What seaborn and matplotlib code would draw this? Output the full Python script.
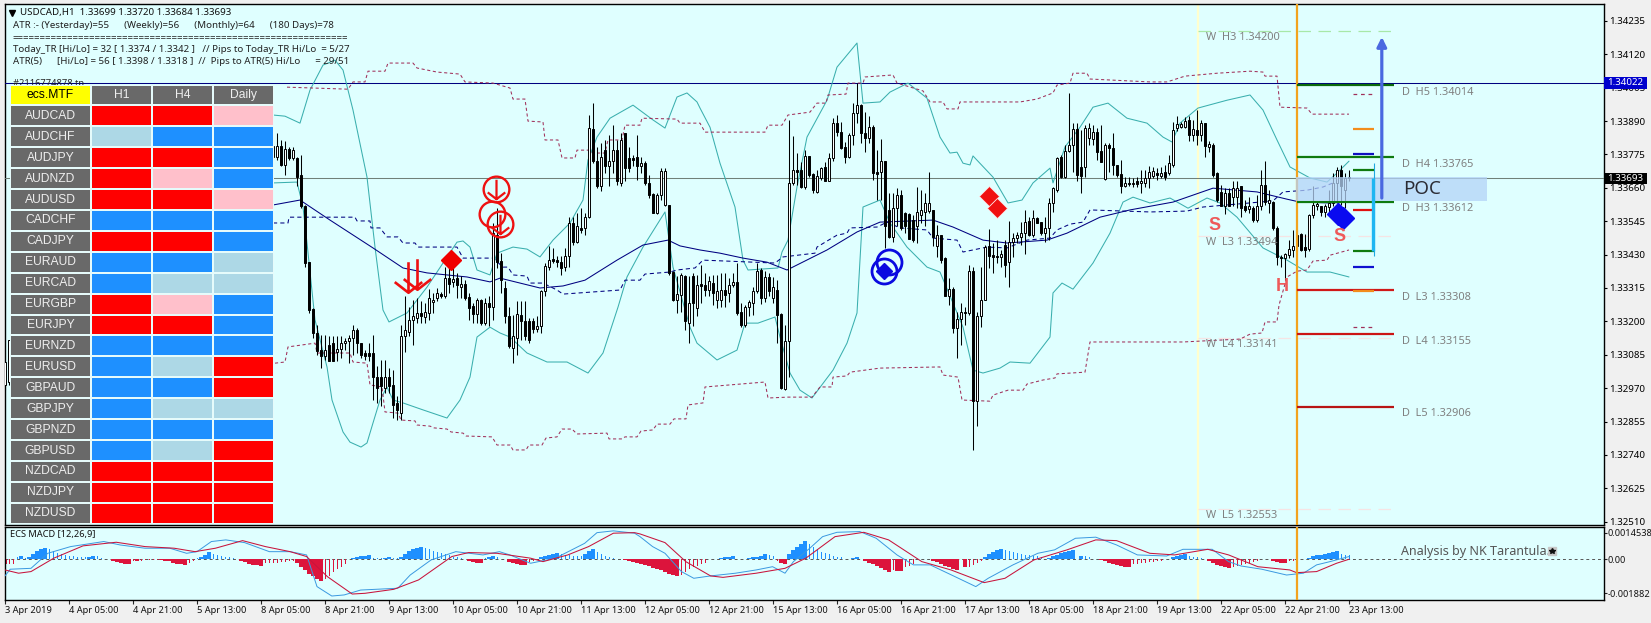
import numpy as np
import matplotlib
matplotlib.use("Agg")
import matplotlib.pyplot as plt
from matplotlib.colors import ListedColormap
from matplotlib.patches import Rectangle
from matplotlib.path import Path
import seaborn as sns

W, H = 1651, 623
BG = "#DFFFFF"

# ---------- data: candles (open, high, low, close) in points above 1.0 (1e-5) ----------
candle_start_a = 67
candles_a = [(33768,33825,33757,33805),(33768,33848,33757,33805),(33805,33825,33734,33739),(33739,33820,33705,33793),(33793,33800,33757,33762),(33762,33800,33757,33791),(33762,33768,33665,33699),(33705,33774,33590,33596),(33596,33602,33389,33401),(33406,33406,33228,33240),
(33242,33246,33142,33160),(33160,33188,33085,33097),(33102,33154,33039,33082),(33082,33154,33068,33100),(33119,33148,33062,33062),(33125,33148,33062,33062),(33096,33148,33065,33104),(33104,33148,33073,33125),(33125,33142,33102,33134),(33131,33154,33056,33142),
(33142,33188,33085,33169),(33169,33177,33091,33125),(33125,33125,33074,33085),(33091,33102,33068,33079),(33091,33125,33062,33082),(33091,33154,32930,33010),(33010,33045,32919,32970),(33010,33068,32907,32976),(32970,33068,32953,33010),(33010,33039,32953,32976),
(32982,33033,32867,32913),(32919,32942,32861,32896),(32884,33188,32861,33148),(33148,33286,33096,33171),(33165,33251,33148,33206),(33206,33274,33119,33217),(33211,33280,33194,33228),(33228,33269,33194,33217),(33215,33263,33194,33231),(33228,33311,33206,33280),
(33266,33297,33228,33272),(33280,33315,33269,33297),(33294,33301,33280,33288),(33288,33389,33280,33349),(33349,33389,33297,33330),(33334,33383,33320,33346),(33349,33366,33280,33326),(33320,33355,33280,33330),(33330,33343,33274,33280),(33284,33297,33206,33246),
(33254,33263,33194,33226),(33226,33280,33194,33272),(33272,33277,33188,33194),(33194,33280,33188,33263),(33263,33286,33183,33251),(33251,33538,33206,33504),(33498,33590,33383,33406),(33409,33435,33297,33343),(33315,33338,33194,33217),(33217,33251,33108,33114),
(33108,33223,33056,33148),(33142,33269,33085,33226),(33223,33269,33137,33203),(33203,33269,33137,33148),(33200,33211,33125,33137),(33200,33211,33160,33173),(33173,33217,33165,33183),(33183,33309,33160,33303),(33303,33401,33286,33392),(33389,33458,33378,33412),
(33414,33452,33401,33409),(33412,33424,33389,33403),(33406,33424,33361,33383),(33387,33452,33372,33424),(33424,33561,33389,33538),(33538,33561,33464,33475),(33475,33573,33470,33527),(33521,33590,33504,33516),(33521,33573,33498,33561),(33561,33912,33556,33866),
(33862,33952,33745,33751),(33751,33802,33659,33665),(33665,33814,33648,33766),(33791,33825,33711,33734),(33736,33843,33665,33751),(33751,33877,33711,33791),(33791,33825,33670,33682),(33676,33848,33665,33825),(33848,33848,33682,33728),(33762,33802,33716,33728),
(33762,33774,33734,33757),(33768,33843,33688,33734),(33734,33768,33711,33745),(33745,33751,33670,33676),(33676,33705,33625,33636),(33638,33642,33573,33575),(33573,33642,33571,33636),(33636,33728,33619,33719),(33602,33728,33596,33719),(33602,33602,33361,33366),
(33369,33372,33269,33274),(33274,33355,33228,33294),(33292,33366,33234,33361),(33355,33361,33171,33200),(33194,33355,33125,33263),(33355,33366,33183,33263),(33246,33361,33217,33326),(33328,33395,33263,33323),(33326,33366,33286,33309),(33309,33355,33286,33338)]

candle_start_b = 177
candles_b = [(33332,33360,33257,33297),(33274,33360,33245,33303),(33274,33366,33251,33309),(33309,33366,33251,33291),(33297,33349,33268,33326),(33326,33366,33320,33337),(33337,33400,33222,33228),(33234,33263,33182,33188),(33188,33257,33182,33251),(33249,33274,33217,33268),
(33265,33320,33222,33303),(33303,33400,33297,33374),(33377,33383,33260,33280),(33280,33372,33268,33354),(33354,33366,33286,33306),(33280,33354,33263,33320),(33309,33341,33125,33222),(33225,33228,32966,32970),(32966,33188,32964,33131),(33131,33894,33010,33676),
(33676,33837,33670,33722),(33720,33779,33670,33713),(33722,33750,33659,33662),(33662,33791,33655,33770),(33770,33770,33699,33705),(33708,33710,33644,33651),(33647,33722,33641,33701),(33693,33733,33687,33728),(33731,33750,33682,33685),(33685,33779,33682,33762),
(33762,33900,33751,33885),(33883,33911,33837,33854),(33854,33888,33793,33796),(33802,33819,33747,33765),(33765,33848,33762,33842),(33842,33951,33808,33917),(33917,34020,33883,33946),(33946,33949,33814,33848),(33848,33923,33785,33831),(33831,33908,33814,33869),
(33869,33877,33687,33710),(33713,33791,33619,33708),(33713,33827,33619,33753),(33753,33753,33452,33527),(33584,33641,33486,33490),(33492,33641,33475,33590),(33590,33659,33527,33636),(33636,33653,33515,33521),(33573,33578,33504,33527),(33569,33573,33483,33483),
(33550,33567,33475,33481),(33527,33662,33469,33578),(33567,33653,33538,33584),(33578,33641,33527,33607),(33581,33716,33573,33607),(33584,33584,33458,33492),(33458,33532,33423,33498),(33498,33498,33400,33412),(33418,33423,33286,33288),(33288,33349,33257,33311),
(33311,33320,33159,33177),(33177,33234,33073,33208),(33208,33263,33119,33234),(33234,33251,33188,33228),(33228,33395,33222,33372),(33372,33389,32757,32924),(32924,33234,32838,33217),(33217,33389,33182,33274),(33274,33463,33272,33455),(33458,33517,33383,33426),
(33427,33469,33366,33423),(33426,33481,33400,33423),(33421,33446,33389,33433),(33463,33481,33354,33395),(33403,33547,33320,33475),(33475,33504,33423,33486),(33486,33509,33469,33498),(33492,33544,33463,33504),(33504,33584,33433,33544),(33547,33561,33494,33498),
(33498,33584,33492,33555),(33555,33559,33538,33540),(33544,33544,33498,33504),(33504,33561,33475,33523),(33521,33624,33481,33607),(33607,33664,33578,33659),(33653,33768,33647,33762),(33765,33773,33693,33699),(33699,33808,33693,33788),(33788,33986,33785,33808),
(33808,33883,33716,33862),(33862,33883,33682,33705),(33733,33860,33641,33701),(33731,33877,33699,33865),(33831,33883,33808,33865),(33827,33877,33808,33854),(33854,33865,33756,33782),(33788,33877,33750,33750),(33690,33814,33687,33808),(33808,33814,33716,33796),
(33796,33848,33705,33739),(33739,33739,33699,33705),(33708,33756,33641,33667),(33667,33699,33662,33678),(33678,33699,33667,33674),(33672,33693,33664,33676),(33682,33699,33664,33674),(33676,33722,33641,33682),(33678,33722,33664,33693),(33693,33736,33659,33716)]

candle_start_c = 287
candles_c = [(33701,33733,33693,33718),(33710,33728,33688,33705),(33701,33733,33693,33710),(33716,33739,33688,33696),(33710,33774,33705,33745),(33739,33888,33733,33860),(33865,33908,33857,33879),(33871,33888,33865,33879),(33871,33903,33865,33891),(33894,33906,33820,33842),
(33842,33894,33820,33862),(33860,33929,33808,33842),(33842,33894,33820,33883),(33883,33885,33766,33805),(33802,33820,33785,33811),(33808,33814,33699,33705),(33710,33713,33613,33619),(33647,33670,33596,33596),(33596,33659,33570,33644),(33644,33659,33596,33596),
(33630,33682,33596,33659),(33630,33682,33590,33661),(33665,33665,33561,33590),(33596,33619,33578,33584),(33588,33630,33573,33596),(33590,33596,33541,33550),(33550,33636,33544,33596),(33596,33722,33584,33670),(33670,33753,33601,33613),(33609,33653,33573,33619),
(33613,33616,33515,33521),(33521,33527,33395,33423),(33423,33429,33389,33418),(33418,33435,33343,33432),(33429,33481,33418,33449),(33446,33515,33423,33460),(33460,33515,33441,33498),(33502,33504,33441,33446),(33455,33502,33423,33446),(33449,33570,33444,33568),
(33568,33665,33555,33601),(33596,33613,33584,33604),(33596,33598,33564,33578),(33578,33604,33561,33596),(33593,33653,33567,33609),(33607,33710,33596,33676),(33676,33731,33607,33720),(33720,33739,33601,33665),(33653,33710,33590,33693),(33699,33720,33684,33693)]

candle_start_left = 0
candles_left = [(32981,33060,32963,33060),(32991,33136,32980,33136)]

# ---------- data: overlay lines (bar index, points) ----------
bb_up_x = [67,70,73.75,76.25,79.5,82.5,84.5,87,90.5,92.5,94.5,96,100.5,105.5,109.5,113,114.5,116.25,118,121.25,123,127,130.5,133.75,137,141.25,144.5,145.75,148,151.25,157,162,165,168,170.5,173,173.75,176.25,178.75,182.5,184.5,185.75,193.25,194.25,195.75,198,200.5,205.5,208,213,214.5,218.75,221.25,225.75,230.5,233.75,236.25,238,239.5,241.25,242,247,250.75,254.25,257,261.25,262,265,268.75,272,275.75,280.5,285.5,289.5,291.75,293.75,298.25,305.5,311.25,314.5,318,321.25,326.25,330.5,333,336]
bb_up_y = [33911,33907,33883,33997,34083,34100,34066,33928,33697,33456,33239,33198,33229,33318,33401,33473,33477,33456,33377,33360,33435,33456,33449,33422,33480,33539,33618,33756,33835,33900,33945,33894,33866,33973,33987,33956,33935,33869,33745,33594,33411,33377,33384,33439,33480,33663,33835,33962,34076,34159,33952,33956,33990,34021,33969,33835,33780,33783,33745,33739,33770,33697,33608,33618,33677,33728,33677,33801,33869,33938,33952,33900,33883,33835,33818,33883,33935,33962,33980,33928,33825,33732,33694,33680,33711,33752]
bb_lo_x = [67,73,74.5,75.5,77.5,80.5,81.75,84.5,86.25,89,90.5,92,93.75,95.5,97,99.5,104.5,110.5,113.75,116.25,118,121.25,123.75,126.25,130.5,135.5,140.5,145.75,149.5,153.25,155.5,159.5,165,167,171.25,173,178,183,185,188.25,192.5,193.75,196.25,198.75,201.75,207,210.5,213,214.5,218.75,221.25,225.5,230.5,233.75,237,239.5,242,244.5,248.75,251.25,256.25,261.25,262,264.25,267,272,276.25,279.5,282,286.25,291.25,295.75,300.5,303.75,308,314.5,320.5,325.5,331.25,336]
bb_lo_y = [33677,33680,33594,33470,33205,33043,32929,32819,32784,32767,32781,32850,32929,32974,32929,32919,32895,32867,32929,33008,33146,33180,33160,33146,33091,33060,33060,33022,33091,33249,33353,33456,33577,33387,33180,33125,33067,33101,33194,33194,33215,33146,33022,32963,32936,33032,33125,33229,33594,33618,33539,33456,33387,33370,33263,33180,33032,33022,33039,33060,33056,33146,33298,33332,33311,33401,33504,33611,33628,33608,33625,33590,33625,33608,33559,33453,33411,33370,33370,33353]
ma_x = [67,73.75,81.25,92,99.5,105.5,115.5,121.25,123.75,133.75,139.5,145,153,159.5,165.75,168.75,173.75,178.75,184.5,190.5,195.5,205.5,213,218.75,232,237,244.5,250.5,260.5,265.5,273.75,281.25,292,302,313,320.5,323.75,331.25,336]
ma_y = [33601,33618,33549,33453,33384,33367,33353,33336,33349,33315,33322,33342,33411,33463,33480,33460,33446,33435,33418,33404,33377,33446,33508,33542,33549,33525,33480,33470,33480,33504,33559,33584,33611,33659,33646,33621,33611,33608,33611]
mid_x = [67,70.75,71,87.5,88,91.25,91.5,93.75,95.5,98.25,99.5,102.5,103.25,113,114.5,122,124.5,125.75,127,130.5,131.25,134.5,138,139.5,153.75,155,158.75,160,166.25,168,172.5,174.5,192.5,194.5,202.5,203,206.75,208,210.5,211.25,218,220.5,223.75,230.5,232,238,239.5,245.5,250.5,255.5,261.25,263,266.25,269.5,271.25,286.25,295.5,299.5,317,319.5,325.5,329.5,332]
mid_y = [33539,33539,33559,33559,33546,33546,33522,33522,33491,33491,33470,33470,33456,33456,33418,33418,33387,33387,33360,33356,33332,33332,33308,33294,33308,33342,33342,33363,33370,33377,33384,33411,33401,33422,33435,33456,33487,33497,33504,33522,33525,33542,33522,33515,33487,33480,33439,33456,33453,33480,33487,33515,33535,33542,33584,33577,33580,33594,33615,33646,33652,33663,33677]
chan_up_x = [70.5,85.75,87,90,90.75,95,95.75,102,103,108,113.75,115,122,126.25,127,130,130.75,134.5,135,138.25,139.25,142.5,143,146.25,147,150,150.75,154.25,155,158.75,159.25,168,168.75,173.75,175,190,190.75,194.25,195.75,201.25,203,205.25,205.75,210.25,210.75,214.5,215,222,223,229.5,231.25,234.5,235.5,238.25,238.75,253.75,258,262,263,266.25,267,270.5,271.25,286.25,290.5,295,303,311.25,314.5,315,318,318.75,325.5,326.75,336]
chan_up_y = [34007,34000,34025,34025,34062,34062,34090,34090,34073,34059,34052,34025,34021,34004,33966,33966,33890,33887,33825,33825,33763,33763,33790,33790,33780,33780,33825,33825,33876,33876,33900,33897,33883,33883,33852,33852,33876,33876,33911,33921,33952,33952,33980,33983,34021,34021,34042,34049,34021,33994,33956,33956,33932,33932,33956,33956,33966,33987,34014,34021,34055,34055,34035,34025,34025,34045,34055,34062,34059,34045,34045,33938,33935,33914,33914]
chan_lo_x = [67.5,70,70.75,77.5,78,86.25,87,90.5,91.25,94.25,95,98.25,99,102.5,103,106.25,107.25,110.5,111.5,114.5,115.25,121.75,123,126.25,127,130.25,131,134.25,135.25,138,139.25,141.75,143,150.5,151,154.25,155,158,159,162,163,166.25,167.25,170.25,170.75,174.5,175,190,190.75,195.75,201.75,203.75,206.75,207,210.5,211.25,218.75,233.75,234.5,238.25,239.25,246.25,247,250.75,254.5,255.5,259.5,262.5,263,270,271.25,294.5,308.75,311.25,314.25,315,318,318.5,320.5,323,325.5,327,330.5,331.25,336]
chan_lo_y = [33056,33060,33112,33125,33091,33091,33060,33056,32981,32974,32888,32884,32860,32857,32843,32839,32833,32829,32819,32815,32805,32802,32774,32774,32757,32757,32774,32774,32798,32802,32829,32829,32812,32815,32795,32795,32802,32802,32822,32826,32846,32846,32864,32864,32912,32919,32974,32991,32936,32939,32939,32974,32974,33008,33012,33025,33039,33043,33015,33008,32929,32925,32946,32963,32963,32984,32998,33005,33019,33025,33129,33129,33139,33156,33160,33198,33198,33256,33353,33373,33377,33408,33411,33428,33446]

# ---------- data: price levels ----------
price_ticks = [1.34235,1.34120,1.34005,1.33890,1.33775,1.33660,1.33545,1.33430,1.33315,1.33200,1.33085,1.32970,1.32855,1.32740,1.32625,1.32510]
day_levels = [("D  H5 1.34014",1.34014,"#0B6B0B"),("D  H4 1.33765",1.33765,"#0F7A0F"),("D  H3 1.33612",1.33612,"#0F7A0F"),
              ("D  L3 1.33308",1.33308,"#D01818"),("D  L4 1.33155",1.33155,"#CC1414"),("D  L5 1.32906",1.32906,"#B81414")]
week_levels = [("W  H3 1.34200",1.34200,"#A8E8A8"),("W  L3 1.33494",1.33494,"#F6E4E4"),
               ("W  L4 1.33141",1.33141,"#F6E4E4"),("W  L5 1.32553",1.32553,"#F6E4E4")]
short_levels = [(1.33982,"#A0305A",True),(1.33864,"#F28C1C",False),(1.33777,"#1010C0",False),(1.33722,"#0F7A0F",False),
                (1.33583,"#E01010",False),(1.33444,"#0F7A0F",False),(1.33387,"#1010D0",False),(1.33305,"#F28C1C",False),(1.33180,"#A0305A",True)]
last_price = 1.33693
line_price = 1.34022

time_labels = ["3 Apr 2019","4 Apr 05:00","4 Apr 21:00","5 Apr 13:00","8 Apr 05:00","8 Apr 21:00","9 Apr 13:00","10 Apr 05:00","10 Apr 21:00","11 Apr 13:00","12 Apr 05:00","12 Apr 21:00","15 Apr 13:00","16 Apr 05:00","16 Apr 21:00","17 Apr 13:00","18 Apr 05:00","18 Apr 21:00","19 Apr 13:00","22 Apr 05:00","22 Apr 21:00","23 Apr 13:00"]
bars_per_label = 16

# ---------- data: MACD, units of 1e-5 ----------
macd_x = [0,1.3,6.5,10.7,16.4,24.7,28.8,35,41.2,45.4,48,51.6,55.2,59.9,66.1,71.3,75.4,78,81.7,84.8,88.9,98.2,101.3,106.5,112.7,119.5,123.6,126.2,131.4,137.6,144.9,148,152.1,157.4,158.75,161.9,165,169.1,172.2,176.4,182.6,187.8,191.9,195,197.1,201.2,204.4,208,213.7,217.8,223,227.1,231.3,237.5,242.7,245.8,252,258.2,262.4,267.6,272.7,277.9,283.1,290.4,294.5,301.8,305.9,309,314.2,320.4,324.6,327.9,331.25,336]
macd_y = [-92,-55,-50,33,70,98,79,61,61,33,42,98,107,92,42,42,24,-151,-203,-197,-170,-160,-87,-4,42,24,42,24,-22,6,88,147,157,144,125,70,33,-68,-105,-92,-77,-59,-41,-77,-13,61,125,149,153,116,24,-31,-31,-96,-151,-105,-31,33,52,116,122,79,24,18,55,55,-13,-37,-55,-87,-77,-31,-13,15]
signal_x = [0,3.4,6.5,12.2,19.5,27.8,35,42.3,47.5,52.6,59.4,65.1,71.3,75.4,80.6,86.8,90,97.2,103.4,111.7,115.9,123,131.4,134.5,140.7,145.9,152.1,157.4,158.75,165,170.2,176.4,179.5,187.8,195,200.2,207.5,214.7,220.9,229.2,236.5,244.8,250,257.2,265.5,272.7,277.9,286.2,292.4,300.7,305.9,313.2,321.2,322.9,327.9,332.9,336]
signal_y = [-59,-77,-68,6,74,94,70,61,42,61,103,70,42,15,-96,-192,-188,-166,-114,15,37,33,6,-13,24,70,144,147,140,92,-13,-92,-100,-77,-50,6,125,149,107,-13,-59,-129,-105,-4,52,107,103,33,24,55,24,-41,-59,-74,-68,-22,0]
hist_runs = [(0,[-25,-25,-25]),(3,[10,17,5,10,30,45,55,62,55,45,35,30,25,20,18,15,12,10,12,17,17,5,3,2]),
 (27,[-8,-14,-20,-24,-28,-10,-12,-8,-6,-4,-3,-2,-4,-8,-12,-18,-24,-28,-32,-18,-10]),
 (48,[6,14,25,38,30,25,20,15,10,5,3]),(59,[-8,-16,-24,-30,-34,-38,-22,-20,-18,-18,-16,-14,-12,-10,-20,-40,-60,-80,-95,-110,-120,-110,-90,-70,-55,-40,-28]),
 (86,[3,8,12,16,20,23,8,6,5,8,10,8,6,15,30,45,55,62,66,60,55,48,42,35,28,22,15,10,5]),
 (116,[-8,-14,-20,-22,8,14,17,14]),(126,[-15,-22,-28,-32,-33,-15,-10,-5]),(134,[10,18,25,30,34,28,25,22,20,18,16,30,45,55,40,30,20,12,6]),
 (155,[-5,-10,-15,-20,-25,-30,-38,-46,-55,-62,-72,-80,-88,-94,-85,-70,-55,-45,-35,-28,-20]),(179,[6,10,14,17]),
 (185,[4,6,10,14,20,28,22,20,-10,-18,-28,30,50,70,85,100,85,70,55,40,35,30,20,15,10]),(212,[8,12]),
 (215,[-8,-18,-28,-38,-48,-60,-72,-60,-65,-66,-45,-35,-28]),(232,[-8,-15,-25,-35,-45,-55,-62]),(240,[-45,-40,-30,-20,-12]),
 (245,[15,28,40,50,55,50,45,40,35,30,25,22,20,18,15]),(261,[8,16,25,32,38,44,50]),(269,[20,18,12]),
 (274,[-6,-12,-18,-24,-30,-36,-40,-44,-28,-24,-22,-18,-16,-14,-12,-10]),(292,[10,16,22,28,16,14,12,8]),
 (301,[-12,-20,-30,-38,-44,-50,-40,-36,-32,-26,-22,-16,-10]),(317,[-8,-14,-18,-22,-12,-8]),(326,[8,16,22,26,30,36,40,48,28,24,22])]
macd_ticks = [0.0014538,0.0,-0.001882]
macd_tick_labels = ["0.0014538","0.00","-0.001882"]

# ---------- data: signal table ----------
pairs = ["AUDCAD","AUDCHF","AUDJPY","AUDNZD","AUDUSD","CADCHF","CADJPY","EURAUD","EURCAD","EURGBP","EURJPY","EURNZD","EURUSD","GBPAUD","GBPJPY","GBPNZD","GBPUSD","NZDCAD","NZDJPY","NZDUSD"]
timeframes = ["H1","H4","Daily"]
# 0 red, 1 pink, 2 blue, 3 light blue
signals = [[0,0,1],[3,2,2],[0,0,2],[0,1,2],[0,0,1],[2,2,2],[0,0,2],[2,2,3],[2,3,3],[0,1,2],[0,0,2],[2,2,2],[2,3,0],[2,2,0],[2,3,3],[2,2,2],[2,3,0],[0,0,0],[0,0,0],[0,0,0]]

header_lines = ["USDCAD,H1  1.33699 1.33720 1.33684 1.33693",
 "ATR :- (Yesterday)=55      (Weekly)=56      (Monthly)=64      (180 Days)=78",
 "=" * 61,
 "Today_TR [Hi/Lo] = 32 [ 1.3374 / 1.3342 ]   // Pips to Today_TR Hi/Lo  = 5/27",
 "ATR(5)      [Hi/Lo] = 56 [ 1.3398 / 1.3318 ]  //  Pips to ATR(5) Hi/Lo      = 29/51"]

# ---------- layout ----------
sns.set_theme(style="white")
FONT = "Noto Sans"
plt.rcParams["font.family"] = [FONT, "DejaVu Sans"]
fig = plt.figure(figsize=(W/100, H/100), dpi=100, facecolor="#F0F0F0")

def box(l, t, r, b):
    return [l/W, 1-b/H, (r-l)/W, (b-t)/H]
def fpos(x, y):
    return x/W, 1-y/H

ax = fig.add_axes(box(4.5, 4, 1603.5, 525), facecolor=BG)
mx = fig.add_axes(box(4.5, 526.5, 1603.5, 600), facecolor=BG, sharex=ax)
for a in (ax, mx):
    for s in a.spines.values():
        s.set_color("black"); s.set_linewidth(1.0)
    a.grid(False)
ax.set_xlim(-0.125, 399.625)
ax.set_ylim(1.324984, 1.342935)
mx.set_ylim(-0.00225, 0.00181)

def pr(v):
    return 1.0 + np.asarray(v, dtype=float)/1e5

YEL, ORG = "#FFFFCF", "#F2A31E"
for a in (ax, mx):
    a.axvline(298.2, color=YEL, lw=1.6, zorder=1)
    a.axvline(323, color=ORG, lw=1.6, zorder=6)

# horizontal lines
ax.axhline(line_price, color="#000080", lw=0.75, zorder=3)
ax.axhline(last_price, color="#708078", lw=0.75, zorder=3)

# overlays via seaborn
TEAL, NAVY, MAROON = "#3AAFAE", "#000080", "#A0305A"
def line(a, xs, ys, color, ls="-", lw=0.75, z=3):
    sns.lineplot(x=xs, y=ys, ax=a, color=color, linestyle=ls, linewidth=lw, sort=False, estimator=None, errorbar=None, legend=False, zorder=z)

line(ax, bb_up_x, pr(bb_up_y), TEAL)
line(ax, bb_lo_x, pr(bb_lo_y), TEAL)
line(ax, ma_x, pr(ma_y), NAVY)
line(ax, mid_x, pr(mid_y), NAVY, ls=(0,(4,3)))
line(ax, chan_up_x, pr(chan_up_y), MAROON, ls=(0,(3,2.5)))
line(ax, chan_lo_x, pr(chan_lo_y), MAROON, ls=(0,(3,2.5)))

# candles
def draw_candles(start, rows):
    arr = np.array(rows, dtype=float)
    o, h, l, c = pr(arr[:,0]), pr(arr[:,1]), pr(arr[:,2]), pr(arr[:,3])
    idx = start + np.arange(len(rows))
    ax.vlines(idx, l, h, color="black", lw=0.75, zorder=4)
    up = c >= o
    ax.bar(idx, np.abs(c-o), bottom=np.minimum(o, c), width=0.6,
           color=["white" if u else "black" for u in up], edgecolor="black", linewidth=0.7, zorder=5)
for st, rows in ((candle_start_left, candles_left), (candle_start_a, candles_a), (candle_start_b, candles_b), (candle_start_c, candles_c)):
    draw_candles(st, rows)

# pivot levels
GREY = "#808080"
LEVEL_FS = 7.9
for label, lvl, col in week_levels:
    ax.hlines(lvl, 298.2, 347.2, color=col, lw=0.9, linestyle=(0,(10,6)), zorder=2)
    ax.annotate(label, (300.2, lvl), xytext=(0,-6), textcoords="offset pixels", va="center", ha="left", fontsize=LEVEL_FS, color=GREY, zorder=7)
for label, lvl, col in day_levels:
    ax.hlines(lvl, 323, 347.25, color=col, lw=1.6, zorder=6)
    ax.annotate(label, (349.25, lvl), xytext=(0,-7), textcoords="offset pixels", va="center", ha="left", fontsize=LEVEL_FS, color=GREY, zorder=7)
for lvl, col, dashed in short_levels:
    ax.hlines(lvl, 337, 342.25, color=col, lw=0.9 if dashed else 1.6, linestyle=(0,(3,3)) if dashed else "-", zorder=6)

# POC box
ax.add_patch(Rectangle((322.7, 1.33615), 47.8, 1.33698-1.33615, facecolor="#B4D3F7", alpha=0.75, edgecolor="none", zorder=7))
ax.text(349.5, 1.33655, "POC", fontsize=13.5, color="#2B2B33", va="center", ha="left", zorder=9)

# range bar and arrow
ax.vlines(342.2, 1.33425, 1.33745, color="#1EA8E0", lw=0.8, zorder=8)
ax.vlines(342, 1.33444, 1.33693, color="#1EB6F2", lw=2.4, zorder=8)
ax.annotate("", xy=(344.2, 1.34180), xytext=(344.2, 1.33625),
            arrowprops=dict(arrowstyle="-|>", color="#4A68E0", lw=2.3, mutation_scale=14, shrinkA=0, shrinkB=0), zorder=9)

# signal marks
arrow_path = Path([(0,1),(0,-1),(-0.9,-0.3),(0,-1),(0.9,-0.3)],
                  [Path.MOVETO,Path.LINETO,Path.MOVETO,Path.LINETO,Path.LINETO])
RED, BLUE = "#EE1111", "#0A0AE0"
ax.plot([100.8,103], pr([33352,33362]), ls="none", marker=arrow_path, ms=22, mfc="none", mec=RED, mew=1.9, zorder=9)
ax.plot([122.75,123.75], pr([33656,33535]), ls="none", marker=arrow_path, ms=14, mfc="none", mec=RED, mew=1.6, zorder=9)
ax.plot([122.75,121.75,123.75], pr([33656,33570,33535]), ls="none", marker="o", ms=18.5, mfc="none", mec=RED, mew=1.7, zorder=9)
ax.plot([111.5], pr([33412]), ls="none", marker="D", ms=10.5, color="#F00000", zorder=9)
ax.plot([246,248], pr([33633,33592]), ls="none", marker="D", ms=10.5, mfc="#F01010", mec="#FFE8E8", mew=0.5, zorder=9)
ax.plot([221,219.75], pr([33406,33375]), ls="none", marker="o", ms=18, mfc="none", mec=BLUE, mew=2.0, zorder=9)
ax.plot([219.75], pr([33375]), ls="none", marker="D", ms=8.5, color=BLUE, zorder=9)
ax.plot([333.25,334.5], pr([33570,33556]), ls="none", marker="D", ms=11.5, color="#0A0AF0", zorder=9)
for sx, sy, t in ((302.5,33529,"S"),(333.75,33492,"S"),(319.25,33319,"H")):
    ax.text(sx, pr(sy), t, fontsize=13, fontweight="bold", family="Liberation Sans", color="#EE5A5A", ha="center", va="center", zorder=9)

# price axis
ax.yaxis.tick_right()
ax.set_yticks(price_ticks)
ax.set_yticklabels([f"{p:.5f}" for p in price_ticks])
ax.tick_params(axis="y", direction="out", length=2.2, width=0.8, color="black", pad=2, labelsize=7, labelcolor="black", right=True, left=False)
ax.tick_params(axis="x", bottom=False, labelbottom=False)
ax.set_xlabel(""); ax.set_ylabel("")

# MACD
hist = np.zeros(337)
for st, vals in hist_runs:
    hist[st:st+len(vals)] = vals
grow = np.abs(hist) > np.abs(np.r_[0, hist[:-1]])
bar_x = np.arange(337)
nz = hist != 0
bar_cols = np.where(hist > 0, "#1E90FF", "#DC143C")
mx.bar(bar_x[nz & grow], hist[nz & grow]*1e-5, width=1.0, color=bar_cols[nz & grow], linewidth=0, zorder=2)
mx.bar(bar_x[nz & ~grow], hist[nz & ~grow]*1e-5, width=0.25, color=bar_cols[nz & ~grow], linewidth=0, zorder=2)
mx.axhline(0, color="#555555", lw=0.7, linestyle=(0,(3,3)), zorder=1)
line(mx, macd_x, np.array(macd_y)*1e-5, "#3A98E0", lw=0.7, z=4)
line(mx, signal_x, np.array(signal_y)*1e-5, "#C8143C", lw=0.75, z=5)
mx.text(0.0037, 0.885, "ECS MACD [12,26,9]", transform=mx.transAxes, fontsize=6.7, va="center", color="#111111")
mx.text(349, 0.00045, "Analysis by NK Tarantula.", fontsize=9, color="#555555", va="center", ha="left", zorder=7)
mx.plot([386.7], [0.00045], ls="none", marker="s", ms=5.5, color="#C8C8C8", zorder=7)
mx.plot([386.7], [0.00045], ls="none", marker="*", ms=4, color="#111111", zorder=8)
mx.yaxis.tick_right()
mx.set_yticks(macd_ticks)
mx.set_yticklabels(macd_tick_labels)
mx.tick_params(axis="y", direction="out", length=2.2, width=0.8, pad=0.5, labelsize=6.6, labelcolor="#111111", right=True, left=False)
tick_idx = np.arange(len(time_labels))*bars_per_label
mx.set_xticks(tick_idx)
mx.set_xticklabels(time_labels, ha="left")
mx.tick_params(axis="x", direction="out", length=3, width=0.8, pad=1.5, labelsize=6.7, labelcolor="#111111", bottom=True)
mx.set_xlabel(""); mx.set_ylabel("")
mx.set_xlim(-0.125, 399.625)

# tags on the price axis
for y_tag, txt, col in ((82.7,"1.34022","#0000CD"),(178.3,"1.33693","#000000")):
    fig.add_artist(Rectangle((1604/W, 1-(y_tag+5.8)/H), 42.5/W, 11.6/H, transform=fig.transFigure, facecolor=col, edgecolor="none", zorder=20))
    fig.text(*fpos(1625.5, y_tag), txt, color="white", fontsize=7, ha="center", va="center", zorder=21)

# header
fig.text(*fpos(20, 12.5), header_lines[0], fontsize=7, color="#111111", va="center", zorder=21)
tri = fig.add_axes(box(7, 9, 16, 16)); tri.axis("off"); tri.set_xlim(0,1); tri.set_ylim(0,1)
tri.plot([0.5],[0.5], marker="v", ms=4.2, color="black")
for yy, txt in zip((26, 38.5, 50, 62), header_lines[1:]):
    fig.text(*fpos(12.5, yy), txt, fontsize=7, color="#222222", va="center", zorder=21)
fig.text(*fpos(13, 84), "#2116774878 tp", fontsize=6.7, color="#222222", va="center", zorder=3)

# table through seaborn heatmaps
label_ax = fig.add_axes(box(10, 84.5, 90.8, 523.7), zorder=10)
label_codes = np.r_[[[0]], np.ones((len(pairs),1))]
label_text = np.array([["ecs.MTF"]] + [[p] for p in pairs])
sns.heatmap(label_codes, ax=label_ax, cmap=ListedColormap(["#FFFF00","#696969"]), vmin=0, vmax=1, cbar=False,
            annot=label_text, fmt="", annot_kws={"fontsize":8.7,"family":"Liberation Sans","color":"#EEEEEE"},
            linewidths=1.1, linecolor="#E6FBFB", xticklabels=False, yticklabels=False)
label_ax.texts[0].set_color("black")

state_ax = fig.add_axes(box(90.8, 84.5, 273.8, 523.7), zorder=10)
state_codes = np.vstack([np.full((1,3), 4), np.array(signals)])
state_text = np.full(state_codes.shape, "", dtype=object)
state_text[0,:] = timeframes
sns.heatmap(state_codes, ax=state_ax, cmap=ListedColormap(["#FF0000","#FFC0CB","#1E90FF","#ADD8E6","#696969"]), vmin=0, vmax=4, cbar=False,
            annot=state_text, fmt="", annot_kws={"fontsize":8.7,"family":"Liberation Sans","color":"#EEEEEE"},
            linewidths=1.1, linecolor="#E6FBFB", xticklabels=False, yticklabels=False)

fig.savefig("out.png", dpi=100, facecolor=fig.get_facecolor())
